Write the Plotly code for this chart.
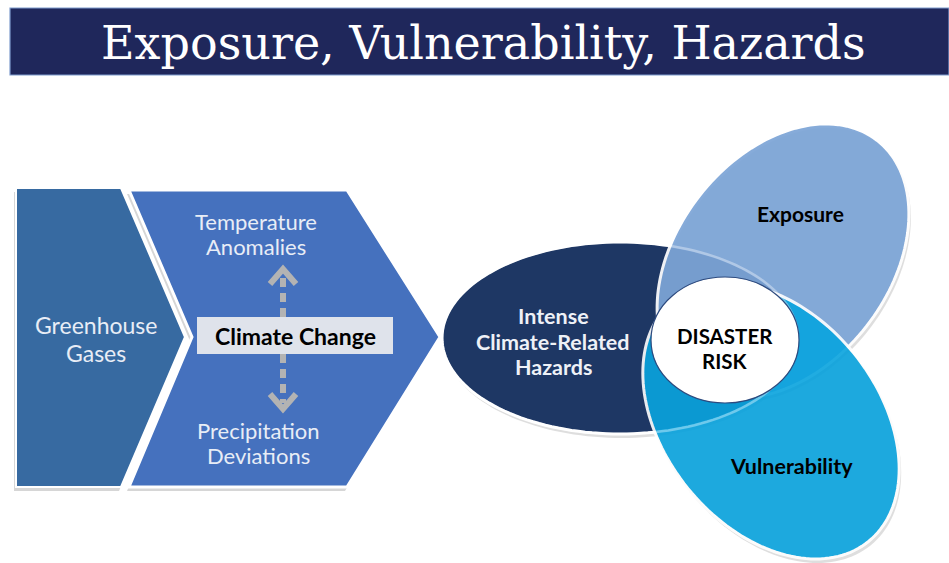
import numpy as np
import plotly.graph_objects as go

W, H = 949, 563

# ---- diagram content -------------------------------------------------------
title_text = "Exposure, Vulnerability, Hazards"
greenhouse_lines = ["Greenhouse", "Gases"]
climate_label = "Climate Change"
temperature_lines = ["Temperature", "Anomalies"]
precip_lines = ["Precipitation", "Deviations"]
hazard_lines = ["Intense", "Climate-Related", "Hazards"]
risk_labels = ["Exposure", "Vulnerability"]
centre_lines = ["DISASTER", "RISK"]

# ---- geometry (pixel space, y downward) -----------------------------------
banner = [10, 8, 949, 75]
chev1 = [(16, 188), (121, 188), (185, 337), (121, 487), (16, 487)]
chev2 = [(129, 190), (347, 190), (440, 337), (347, 487), (129, 487), (192, 337)]
cc_box = [197, 317, 393, 354]
arrow_x = 283
# ellipses: cx, cy, a, b, angle(deg)
hazard_ell = [620, 338, 178, 96, 0]
expo_ell = [783, 261, 153, 106, -52]
vuln_ell = [771, 421, 155, 107, 51]
risk_circ = [725, 340, 74, 63]

# ---- colours ---------------------------------------------------------------
c_banner = "#1f275b"
c_chev1 = "#376aa1"
c_chev2 = "#4571be"
c_box = "#dfe3eb"
c_hazard = "#1e3764"
c_expo = "#7da5d7"
c_vuln = "#09a4df"
c_arrow = "#b3b3b3"
c_light = "#e8edf6"


def poly_path(pts, close=True):
    s = "M " + " L ".join(f"{x:.2f},{y:.2f}" for x, y in pts)
    return s + (" Z" if close else "")


def ellipse_pts(cx, cy, a, b, ang, n=160):
    t = np.linspace(0, 2 * np.pi, n, endpoint=False)
    th = np.radians(ang)
    x = cx + a * np.cos(t) * np.cos(th) - b * np.sin(t) * np.sin(th)
    y = cy + a * np.cos(t) * np.sin(th) + b * np.sin(t) * np.cos(th)
    return list(zip(x, y))


def shift(pts, dx, dy):
    return [(x + dx, y + dy) for x, y in pts]


shapes = []

# title banner
shapes.append(dict(type="rect", x0=banner[0], y0=banner[1], x1=banner[2], y1=banner[3],
                   fillcolor=c_banner, line=dict(color="#7f9ccd", width=1.2), layer="below"))

# chevron shadows
for pts in (chev1, chev2):
    shapes.append(dict(type="path", path=poly_path(shift(pts, -2, 4)),
                       fillcolor="rgba(0,0,0,0.16)", line=dict(width=0)))
# chevrons
shapes.append(dict(type="path", path=poly_path(chev1), fillcolor=c_chev1,
                   line=dict(color="white", width=2)))
shapes.append(dict(type="path", path=poly_path(chev2), fillcolor=c_chev2,
                   line=dict(color="white", width=3)))

# dashed arrows
up_top, down_bot = 269, 409
shapes.append(dict(type="line", x0=arrow_x, x1=arrow_x, y0=cc_box[1], y1=up_top + 6,
                   line=dict(color=c_arrow, width=6, dash="9px,6px")))
shapes.append(dict(type="line", x0=arrow_x, x1=arrow_x, y0=cc_box[3], y1=down_bot - 6,
                   line=dict(color=c_arrow, width=6, dash="9px,6px")))
shapes.append(dict(type="path",
                   path=poly_path([(arrow_x - 13, up_top + 15), (arrow_x, up_top), (arrow_x + 13, up_top + 15)], False),
                   line=dict(color=c_arrow, width=6)))
shapes.append(dict(type="path",
                   path=poly_path([(arrow_x - 13, down_bot - 15), (arrow_x, down_bot), (arrow_x + 13, down_bot - 15)], False),
                   line=dict(color=c_arrow, width=6)))

# climate change box
shapes.append(dict(type="rect", x0=cc_box[0], y0=cc_box[1], x1=cc_box[2], y1=cc_box[3],
                   fillcolor=c_box, line=dict(width=0)))

# ellipse shadows
for e in (hazard_ell, expo_ell, vuln_ell):
    shapes.append(dict(type="path", path=poly_path(shift(ellipse_pts(*e), 2, 4)),
                       fillcolor="rgba(0,0,0,0.13)", line=dict(width=0)))

hz = ellipse_pts(*hazard_ell)
shapes.append(dict(type="path", path=poly_path(hz), fillcolor=c_hazard,
                   line=dict(color="white", width=3)))
shapes.append(dict(type="path", path=poly_path(ellipse_pts(*expo_ell)), fillcolor=c_expo,
                   opacity=0.93, line=dict(color="white", width=3)))
shapes.append(dict(type="path", path=poly_path(ellipse_pts(*vuln_ell)), fillcolor=c_vuln,
                   opacity=0.9, line=dict(color="white", width=3)))
# faint hazard outline visible through the overlapping ellipses
shapes.append(dict(type="path", path=poly_path(hz), fillcolor="rgba(0,0,0,0)",
                   line=dict(color="rgba(255,255,255,0.35)", width=2.5)))
# centre circle
cx, cy, rx, ry = risk_circ
shapes.append(dict(type="circle", x0=cx - rx, x1=cx + rx, y0=cy - ry, y1=cy + ry,
                   fillcolor="white", line=dict(color="#2d4a7e", width=1.2)))

ann = []


def text(x, y, s, size, color, bold=False, family="Lato"):
    ann.append(dict(x=x, y=y, xref="x", yref="y", text=(f"<b>{s}</b>" if bold else s),
                    showarrow=False, xanchor="center", yanchor="middle",
                    font=dict(family=family, size=size, color=color)))


def lines(x, ys, strs, size, color, bold=False):
    for y, s in zip(ys, strs):
        text(x, y, s, size, color, bold)


text(483, 43, title_text, 46, "white", family="DejaVu Serif")
lines(96, [325, 353], greenhouse_lines, 23, c_light)
text(295, 336, climate_label, 23, "black", bold=True)
lines(256, [221, 246], temperature_lines, 22, c_light)
lines(258, [430, 455], precip_lines, 22, c_light)
lines(553, [316, 342, 367], hazard_lines, 21.5, "#eef1f7", bold=True)
text(800, 213, risk_labels[0], 21, "black", bold=True)
text(791, 466, risk_labels[1], 21.5, "black", bold=True)
lines(725, [336, 361], centre_lines, 20.5, "black", bold=True)

fig = go.Figure()
fig.update_layout(
    width=W, height=H, autosize=False,
    margin=dict(l=0, r=0, t=0, b=0),
    paper_bgcolor="white", plot_bgcolor="white",
    xaxis=dict(range=[0, W], visible=False, fixedrange=True),
    yaxis=dict(range=[H, 0], visible=False, fixedrange=True),
    shapes=shapes, annotations=ann, showlegend=False,
)
fig.write_html("out.html", config=dict(displayModeBar=False),
               post_script="document.body.style.margin='0px';document.body.style.overflow='hidden';")
